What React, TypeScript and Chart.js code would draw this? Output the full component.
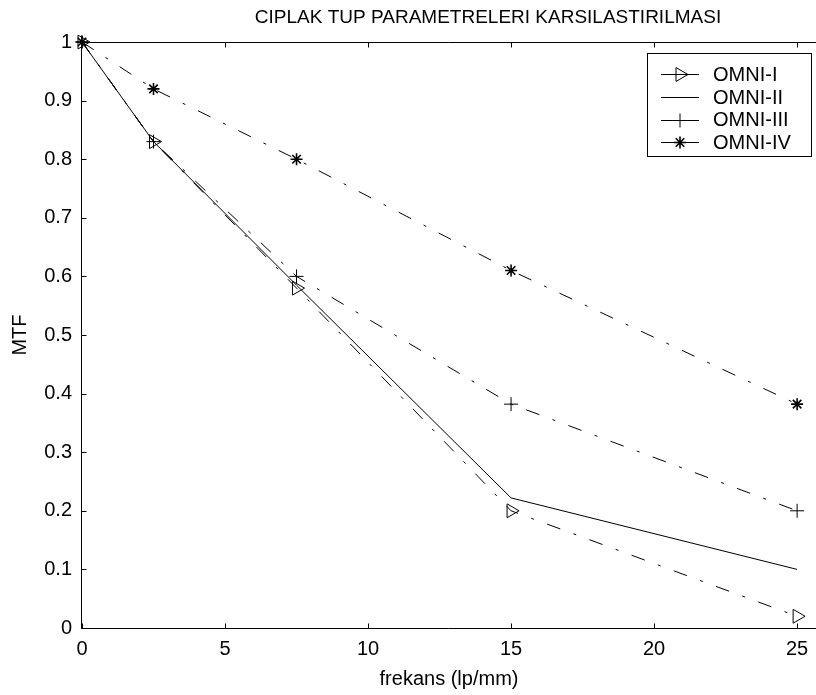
import React, { useEffect, useRef } from 'react';
import { Chart, registerables } from 'chart.js';

Chart.register(...registerables);

const chartTitle = 'CIPLAK TUP PARAMETRELERI KARSILASTIRILMASI';
const xLabel = 'frekans (lp/mm)';
const yLabel = 'MTF';
const seriesNames = ['OMNI-I', 'OMNI-II', 'OMNI-III', 'OMNI-IV'];
const xValues = [0, 2.5, 7.5, 15, 25];
const omni1 = [1, 0.83, 0.58, 0.2, 0.02];
const omni2 = [1, 0.83, 0.585, 0.222, 0.1];
const omni3 = [1, 0.83, 0.6, 0.382, 0.2];
const omni4 = [1, 0.92, 0.8, 0.61, 0.382];
const xTicks = [0, 5, 10, 15, 20, 25];
const yTicks = [0, 0.1, 0.2, 0.3, 0.4, 0.5, 0.6, 0.7, 0.8, 0.9, 1];
const yTickLabels = ['0', '0.1', '0.2', '0.3', '0.4', '0.5', '0.6', '0.7', '0.8', '0.9', '1'];

const FONT = '"Liberation Sans", Arial, sans-serif';
const DASHDOT = [14, 14, 3, 14];

function drawMarker(ctx: CanvasRenderingContext2D, kind: string, x: number, y: number) {
  ctx.beginPath();
  if (kind === 'tri') {
    const r = 8;
    ctx.moveTo(x + r, y);
    ctx.lineTo(x - r / 2, y - r * 0.866);
    ctx.lineTo(x - r / 2, y + r * 0.866);
    ctx.closePath();
  } else if (kind === 'plus') {
    const r = 7;
    ctx.moveTo(x - r, y); ctx.lineTo(x + r, y);
    ctx.moveTo(x, y - r); ctx.lineTo(x, y + r);
  } else if (kind === 'star') {
    const r = 6;
    ctx.moveTo(x - r, y); ctx.lineTo(x + r, y);
    ctx.moveTo(x, y - r); ctx.lineTo(x, y + r);
    const d = r * 0.707;
    ctx.moveTo(x - d, y - d); ctx.lineTo(x + d, y + d);
    ctx.moveTo(x - d, y + d); ctx.lineTo(x + d, y - d);
  }
  ctx.stroke();
}

const framePlugin = {
  id: 'matlabFrame',
  beforeDatasetsDraw(chart: any) {
    const { ctx, chartArea: a, scales } = chart;
    ctx.save();
    ctx.strokeStyle = '#000';
    ctx.lineWidth = 1;
    ctx.setLineDash([]);
    const L = Math.round(a.left) - 0.5;
    const B = Math.round(a.bottom) + 0.5;
    const T = Math.round(a.top) + 0.5;
    ctx.beginPath();
    ctx.moveTo(L, T); ctx.lineTo(chart.width, T);
    ctx.moveTo(L, T); ctx.lineTo(L, B);
    ctx.moveTo(L, B); ctx.lineTo(chart.width, B);
    const tl = 5;
    xTicks.forEach((v) => {
      const px = Math.round(scales.x.getPixelForValue(v)) + 0.5;
      ctx.moveTo(px, B); ctx.lineTo(px, B - tl);
      ctx.moveTo(px, T); ctx.lineTo(px, T + tl);
    });
    yTicks.forEach((v) => {
      const py = Math.round(scales.y.getPixelForValue(v)) + 0.5;
      ctx.moveTo(L, py); ctx.lineTo(L + tl, py);
    });
    ctx.stroke();
    ctx.restore();
  },
  afterDraw(chart: any) {
    const { ctx } = chart;
    ctx.save();
    // title
    ctx.fillStyle = '#000';
    ctx.font = `19px ${FONT}`;
    ctx.textAlign = 'center';
    ctx.textBaseline = 'middle';
    ctx.fillText(chartTitle, 488, 18);
    // legend
    const bx = 647.5, by = 53.5, bw = 164, bh = 103;
    ctx.fillStyle = '#fff';
    ctx.fillRect(bx, by, bw, bh);
    ctx.strokeStyle = '#000';
    ctx.lineWidth = 1;
    ctx.setLineDash([]);
    ctx.strokeRect(bx, by, bw, bh);
    const rows = [74, 97, 119.5, 142];
    const kinds = ['tri', 'none', 'plus', 'star'];
    ctx.font = `20px ${FONT}`;
    ctx.textAlign = 'left';
    ctx.textBaseline = 'middle';
    rows.forEach((ry, i) => {
      const y = Math.round(ry) + 0.5;
      ctx.strokeStyle = '#000';
      ctx.lineWidth = 1;
      ctx.beginPath();
      ctx.moveTo(661, y); ctx.lineTo(699, y);
      ctx.stroke();
      if (kinds[i] === 'star') ctx.lineWidth = 1.6;
      if (kinds[i] !== 'none') drawMarker(ctx, kinds[i], 680, y);
      ctx.lineWidth = 1;
      ctx.fillStyle = '#000';
      ctx.fillText(seriesNames[i], 713, ry + 1);
    });
    ctx.restore();
  },
};

function toPoints(vals: number[]) {
  return xValues.map((x, i) => ({ x, y: vals[i] }));
}

export default function App() {
  const canvasRef = useRef<HTMLCanvasElement | null>(null);

  useEffect(() => {
    const canvas = canvasRef.current;
    if (!canvas) return;
    const common = {
      borderColor: '#000',
      borderWidth: 1,
      pointBorderColor: '#000',
      pointBackgroundColor: 'rgba(0,0,0,0)',
      pointBorderWidth: 1,
      clip: false as const,
      tension: 0,
    };
    const chart = new Chart(canvas, {
      type: 'line',
      data: {
        datasets: [
          { ...common, label: seriesNames[0], data: toPoints(omni1), borderDash: DASHDOT, pointStyle: 'triangle', rotation: 90, pointRadius: 8 },
          { ...common, label: seriesNames[1], data: toPoints(omni2), pointRadius: 0 },
          { ...common, label: seriesNames[2], data: toPoints(omni3), borderDash: DASHDOT, pointStyle: 'cross', pointRadius: 7 },
          { ...common, label: seriesNames[3], data: toPoints(omni4), borderDash: DASHDOT, pointStyle: 'star', pointRadius: 6, pointBorderWidth: 1.6 },
        ] as any,
      },
      options: {
        responsive: false,
        animation: false,
        events: [],
        layout: { autoPadding: false, padding: { top: 42, left: 0, right: 0, bottom: 0 } },
        plugins: {
          legend: { display: false },
          title: { display: false },
          tooltip: { enabled: false },
        },
        scales: {
          x: {
            type: 'linear',
            min: 0,
            max: 25.66,
            grid: { display: false, drawTicks: false },
            border: { display: false },
            afterBuildTicks: (s: any) => { s.ticks = xTicks.map((v) => ({ value: v })); },
            afterFit: (s: any) => { s.height = 67; s.paddingLeft = 0; s.paddingRight = 0; },
            ticks: {
              color: '#000',
              font: { family: FONT, size: 20 },
              padding: 9,
              maxRotation: 0,
              autoSkip: false,
              callback: (v: any) => String(v),
            },
            title: {
              display: true,
              text: xLabel,
              color: '#000',
              font: { family: FONT, size: 20 },
              padding: { top: 0, bottom: 4 },
            },
          },
          y: {
            type: 'linear',
            min: 0,
            max: 1,
            grid: { display: false, drawTicks: false },
            border: { display: false },
            afterBuildTicks: (s: any) => { s.ticks = yTicks.map((v) => ({ value: v })); },
            afterFit: (s: any) => { s.width = 82; s.paddingTop = 0; s.paddingBottom = 0; },
            ticks: {
              color: '#000',
              font: { family: FONT, size: 20 },
              padding: 10,
              autoSkip: false,
              callback: (v: any) => {
                const i = yTicks.findIndex((t) => Math.abs(t - v) < 1e-6);
                return i >= 0 ? yTickLabels[i] : '';
              },
            },
            title: {
              display: true,
              text: yLabel,
              color: '#000',
              font: { family: FONT, size: 20 },
              padding: { top: 8, bottom: 0 },
            },
          },
        },
      },
      plugins: [framePlugin],
    });
    return () => chart.destroy();
  }, []);

  return (
    <div style={{ position: 'absolute', left: 0, top: 0, width: 816, height: 695, background: '#fff' }}>
      <canvas ref={canvasRef} width={816} height={695} style={{ display: 'block' }} />
    </div>
  );
}
